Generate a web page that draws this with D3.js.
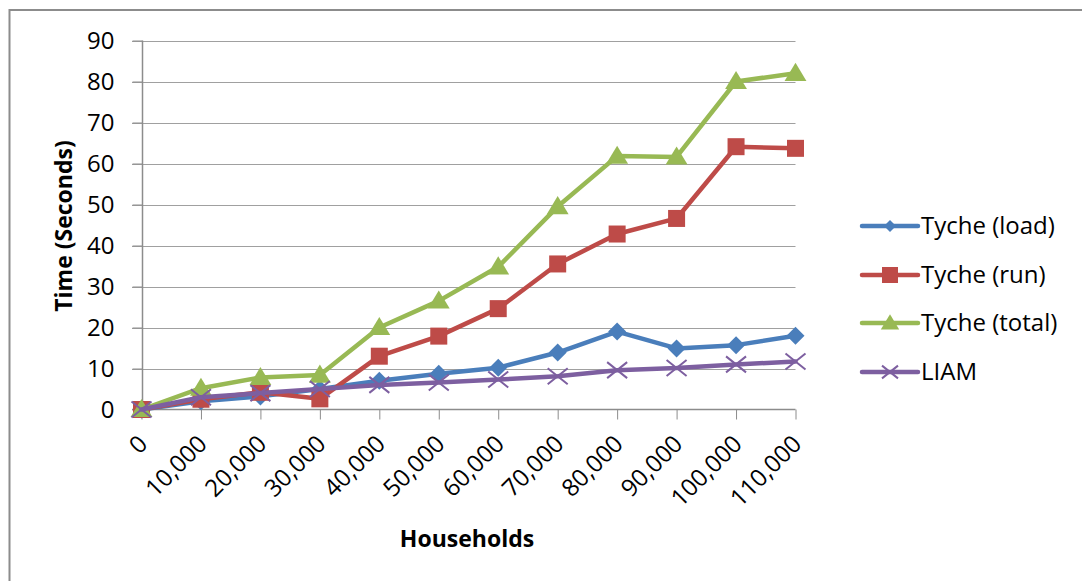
<!DOCTYPE html>
<html><head><meta charset="utf-8">
<script src="https://cdn.jsdelivr.net/npm/d3@7"></script>
<style>body{margin:0;background:#fff}svg{display:block}</style>
</head><body>
<script>
const categories = ["0","10,000","20,000","30,000","40,000","50,000","60,000","70,000","80,000","90,000","100,000","110,000"];
const seriesNames = ["Tyche (load)","Tyche (run)","Tyche (total)","LIAM"];
const loadValues  = [0, 2.0, 3.2, 5.0, 7.0, 8.7, 10.2, 13.9, 19.0, 14.9, 15.7, 18.0];
const runValues   = [0, 2.5, 4.2, 2.6, 13.0, 17.9, 24.6, 35.5, 42.8, 46.6, 64.1, 63.7];
const totalValues = [0, 5.2, 7.8, 8.4, 20.0, 26.5, 34.8, 49.5, 61.8, 61.6, 80.0, 82.0];
const liamValues  = [0, 3.0, 4.0, 5.0, 6.0, 6.6, 7.3, 8.1, 9.6, 10.1, 11.0, 11.7];
const yTicks = [0,10,20,30,40,50,60,70,80,90];
const xTitle = "Households";
const yTitle = "Time (Seconds)";

const W = 1082, H = 581;
const colors = ["#4a7ebb","#be4b48","#98b954","#7d5fa0"];
const markers = ["diamond","square","triangle","x"];
const allValues = [loadValues, runValues, totalValues, liamValues];
const font = "'Open Sans', sans-serif";

const svg = d3.select("body").append("svg").attr("width", W).attr("height", H);

// outer frame
svg.append("path").attr("d", `M9.5,${H} V10 H${W}`).attr("fill","none").attr("stroke","#8c8c8c").attr("stroke-width",2);

const x = d3.scalePoint().domain(categories).range([141.5, 795.5]);
const y = d3.scaleLinear().domain([0, 90]).range([409.5, 40.5]);

// gridlines
svg.append("g").selectAll("line").data(yTicks.filter(d => d > 0)).join("line")
  .attr("x1", 132).attr("x2", 795.5)
  .attr("y1", d => Math.round(y(d)) + 0.5).attr("y2", d => Math.round(y(d)) + 0.5)
  .attr("stroke", "#a0a0a0").attr("stroke-width", 1);

// y axis
const yAxis = svg.append("g").attr("transform", "translate(142.5,0)")
  .call(d3.axisLeft(y).tickValues(yTicks).tickSize(10).tickPadding(18).tickFormat(d3.format("d")));
yAxis.select(".domain").attr("stroke","#8c8c8c").attr("stroke-width",1.5).attr("d", `M0,${y(90)}V${y(0)}`);
yAxis.selectAll(".tick line").attr("stroke","#8c8c8c");
yAxis.selectAll(".tick text").attr("font-family", font).attr("font-size", 24).attr("fill","#000");

// x axis
const xAxis = svg.append("g").attr("transform", `translate(0,${y(0)})`)
  .call(d3.axisBottom(x).tickSize(10).tickFormat(""));
xAxis.select(".domain").attr("stroke","#8c8c8c").attr("stroke-width",1.5).attr("d", `M132,0H795.5`);
xAxis.selectAll(".tick line").attr("stroke","#8c8c8c");
xAxis.selectAll(".tick").append("text")
  .attr("transform", "translate(1,30) rotate(-45)")
  .attr("text-anchor", "end").attr("dy", "0.35em")
  .attr("font-family", font).attr("font-size", 24).attr("fill", "#000")
  .text(d => d);

// titles
svg.append("text").attr("x", 467).attr("y", 547).attr("text-anchor","middle")
  .attr("font-family", font).attr("font-weight","bold").attr("font-size", 23).text(xTitle);
svg.append("text").attr("transform","translate(72,226) rotate(-90)").attr("text-anchor","middle")
  .attr("font-family", font).attr("font-weight","bold").attr("font-size", 23).text(yTitle);

function drawMarker(g, type, color, s) {
  if (type === "diamond") {
    g.append("path").attr("d", `M0,${-s}L${s},0L0,${s}L${-s},0Z`).attr("fill", color);
  } else if (type === "square") {
    g.append("rect").attr("x", -s).attr("y", -s).attr("width", 2*s).attr("height", 2*s).attr("fill", color);
  } else if (type === "triangle") {
    g.append("path").attr("d", `M0,${-s*1.1}L${s*1.15},${s*0.8}L${-s*1.15},${s*0.8}Z`).attr("fill", color);
  } else {
    g.append("path").attr("d", `M${-s},${-s*0.8}L${s},${s*0.8}M${s},${-s*0.8}L${-s},${s*0.8}`)
      .attr("stroke", color).attr("stroke-width", 2).attr("fill","none");
  }
}
const markerSize = [9, 8.5, 9.5, 10];

const line = d3.line().x((d,i) => x(categories[i])).y(d => y(d));
allValues.forEach((vals, si) => {
  const g = svg.append("g");
  g.append("path").datum(vals).attr("d", line).attr("fill","none")
    .attr("stroke", colors[si]).attr("stroke-width", 4.5).attr("stroke-linejoin","round").attr("stroke-linecap","round");
  vals.forEach((v, i) => {
    const mg = g.append("g").attr("transform", `translate(${x(categories[i])},${y(v)})`);
    drawMarker(mg, markers[si], colors[si], markerSize[si]);
  });
});

// legend
const legY = [226, 275, 323, 372];
seriesNames.forEach((name, si) => {
  const g = svg.append("g").attr("transform", `translate(0,${legY[si]})`);
  g.append("line").attr("x1", 862).attr("x2", 918).attr("stroke", colors[si]).attr("stroke-width", 4.5).attr("stroke-linecap","round");
  const mg = g.append("g").attr("transform", "translate(890,0)");
  drawMarker(mg, markers[si], colors[si], si === 0 ? 6 : 8);
  g.append("text").attr("x", 921).attr("y", 0).attr("dy", "0.35em")
    .attr("font-family", font).attr("font-size", 24).attr("fill","#000").text(name);
});
</script>
</body></html>
